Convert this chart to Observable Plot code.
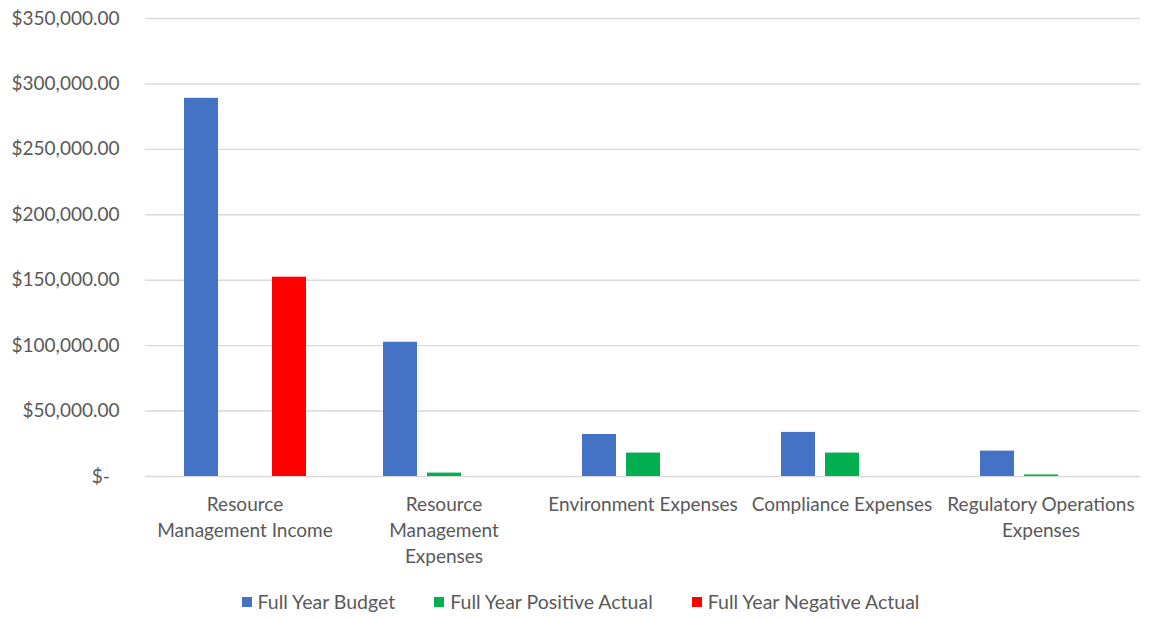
<!DOCTYPE html>
<html>
<head>
<meta charset="utf-8">
<script src="https://cdn.jsdelivr.net/npm/d3@7"></script>
<script src="https://cdn.jsdelivr.net/npm/@observablehq/plot@0.6"></script>
<style>
  html, body { margin: 0; padding: 0; background: #fff; }
  #chart { width: 1153px; height: 575px; }
  .legend { display: flex; justify-content: center; gap: 39px; font-family: Lato, sans-serif; font-size: 19.5px; color: #595959; margin-top: 17px; padding-left: 8px; line-height: 1; }
  .legend span.item { display: inline-flex; align-items: center; gap: 6px; }
  .legend span.sw { width: 10px; height: 10px; display: inline-block; }
</style>
</head>
<body>
<div id="chart"></div>
<script>
const categories = ["Resource Management Income", "Resource Management Expenses", "Environment Expenses", "Compliance Expenses", "Regulatory Operations Expenses"];
const categoryLabels = ["Resource\nManagement Income", "Resource\nManagement\nExpenses", "Environment Expenses", "Compliance Expenses", "Regulatory Operations\nExpenses"];
const series = ["Full Year Budget", "Full Year Positive Actual", "Full Year Negative Actual"];
const budget = [289000, 102600, 32100, 33700, 19400];
const positiveActual = [0, 2600, 17900, 17900, 1200];
const negativeActual = [152300, 0, 0, 0, 0];
const seriesColors = ["#4472C4", "#00B050", "#FF0000"];
const yTicks = [0, 50000, 100000, 150000, 200000, 250000, 300000, 350000];

const seriesValues = [budget, positiveActual, negativeActual];
const data = [];
categories.forEach((c, i) => {
  series.forEach((s, j) => {
    const v = seriesValues[j][i];
    if (v > 0) data.push({category: c, series: s, value: v});
  });
});
const labelOf = new Map(categories.map((c, i) => [c, categoryLabels[i]]));
const fmt = d => d === 0 ? "$-\u00a0\u00a0" : "$" + d3.format(",.2f")(d);

const chart = Plot.plot({
  width: 1153,
  height: 575,
  marginLeft: 144,
  marginRight: 13,
  marginTop: 18,
  marginBottom: 99,
  style: {fontFamily: "Lato, sans-serif", fontSize: "19px", color: "#595959", background: "white", overflow: "visible"},
  fx: {domain: categories, padding: 0, label: null},
  x: {domain: series, paddingInner: 0.236, paddingOuter: 0.865, axis: null},
  y: {domain: [0, 350000], label: null},
  color: {domain: series, range: seriesColors},
  marks: [
    Plot.gridY(yTicks, {stroke: "#d9d9d9", strokeOpacity: 1, strokeWidth: 1.4}),
    Plot.barY(data, {fx: "category", x: "series", y: "value", fill: "series"}),
    Plot.axisY(yTicks, {tickSize: 0, tickPadding: 26, tickFormat: fmt, label: null}),
    Plot.axisFx({anchor: "bottom", tickSize: 0, tickPadding: 16, tickFormat: d => labelOf.get(d), lineHeight: 1.37, label: null})
  ]
});
document.getElementById("chart").appendChild(chart);

const legend = document.createElement("div");
legend.className = "legend";
series.forEach((s, j) => {
  const item = document.createElement("span");
  item.className = "item";
  const sw = document.createElement("span");
  sw.className = "sw";
  sw.style.background = seriesColors[j];
  item.appendChild(sw);
  item.appendChild(document.createTextNode(s));
  legend.appendChild(item);
});
document.body.appendChild(legend);
</script>
</body>
</html>
